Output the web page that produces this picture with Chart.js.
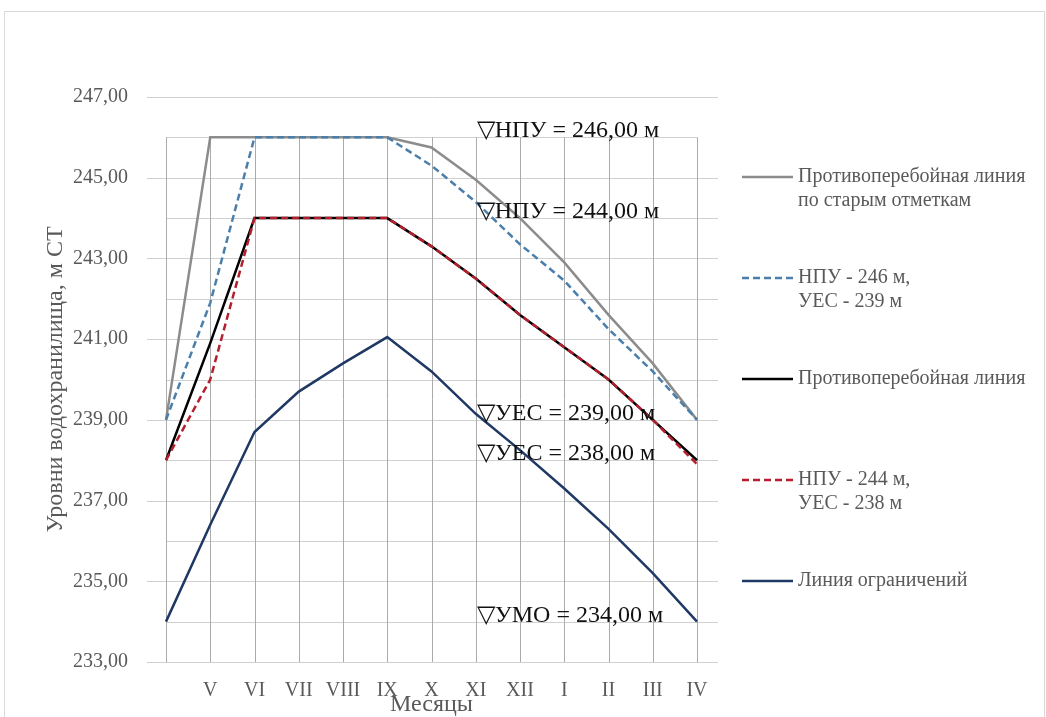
<!DOCTYPE html>
<html lang="ru">
<head>
<meta charset="utf-8">
<title>Уровни водохранилища</title>
<script src="https://cdn.jsdelivr.net/npm/chart.js@4.4.0/dist/chart.umd.min.js"></script>
<style>
  html, body { margin: 0; padding: 0; background: #fff; }
  #wrap { width: 1046px; height: 717px; position: relative; }
</style>
</head>
<body>
<div id="wrap"><canvas id="grafico" width="1046" height="717"></canvas></div>
<script>
// dados
const meses = ['', 'V', 'VI', 'VII', 'VIII', 'IX', 'X', 'XI', 'XII', 'I', 'II', 'III', 'IV'];
const linhaAntiga = [239, 246, 246, 246, 246, 246, 245.75, 244.95, 244.0, 242.9, 241.6, 240.4, 239.0];
const npu246 = [239, 241.9, 246, 246, 246, 246, 245.3, 244.4, 243.35, 242.45, 241.25, 240.2, 239.0];
const linhaNova = [238, 240.9, 244, 244, 244, 244, 243.3, 242.5, 241.6, 240.8, 240.0, 239.0, 238.0];
const npu244 = [238, 240.0, 244, 244, 244, 244, 243.3, 242.5, 241.6, 240.8, 240.0, 239.0, 237.9];
const linhaRestricoes = [234, 236.4, 238.7, 239.7, 240.4, 241.05, 240.2, 239.15, 238.25, 237.3, 236.3, 235.2, 234.0];

const niveisGrade = [233, 234, 235, 236, 237, 238, 239, 240, 241, 242, 243, 244, 245, 246, 247];

const marcasTexto = ['▽НПУ = 246,00 м', '▽НПУ = 244,00 м', '▽УЕС = 239,00 м', '▽УЕС = 238,00 м', '▽УМО = 234,00 м'];
const marcasNivel = [246, 244, 239, 238, 234];

const legendaTexto = [
  ['Противоперебойная линия', 'по старым отметкам'],
  ['НПУ - 246 м,', 'УЕС - 239 м'],
  ['Противоперебойная линия'],
  ['НПУ - 244 м,', 'УЕС - 238 м'],
  ['Линия ограничений']
];

const FONTE = '"Liberation Serif", "Times New Roman", serif';
const CINZA_TEXTO = '#595959';

Chart.defaults.font.family = FONTE;
Chart.defaults.color = CINZA_TEXTO;

const moldura = {
  id: 'moldura',
  beforeDraw(chart) {
    const ctx = chart.ctx;
    ctx.save();
    ctx.fillStyle = '#fff';
    ctx.fillRect(0, 0, chart.width, chart.height);
    ctx.strokeStyle = '#d9d9d9';
    ctx.lineWidth = 1;
    ctx.strokeRect(4.5, 11.5, 1040, 720);
    ctx.restore();
  }
};

const grade = {
  id: 'grade',
  beforeDatasetsDraw(chart) {
    const { ctx, chartArea, scales: { x, y } } = chart;
    ctx.save();
    ctx.lineWidth = 1;
    ctx.strokeStyle = '#d0d0d0';
    niveisGrade.forEach(v => {
      const py = Math.round(y.getPixelForValue(v)) + 0.5;
      const x0 = v % 2 === 1 ? chartArea.left - 19 : chartArea.left;
      const x1 = v === 246 ? chartArea.right : chartArea.right + 21;
      ctx.beginPath();
      ctx.moveTo(x0, py);
      ctx.lineTo(x1, py);
      ctx.stroke();
    });
    // linhas verticais só de 246 até 233
    const topo = y.getPixelForValue(246);
    ctx.strokeStyle = '#ababab';
    meses.forEach((m, i) => {
      const px = Math.round(x.getPixelForValue(i)) + 0.5;
      ctx.beginPath();
      ctx.moveTo(px, topo);
      ctx.lineTo(px, chartArea.bottom);
      ctx.stroke();
    });
    ctx.restore();
  }
};

const marcas = {
  id: 'marcas',
  afterDatasetsDraw(chart) {
    const { ctx, scales: { x, y } } = chart;
    ctx.save();
    ctx.font = '24px ' + FONTE;
    ctx.fillStyle = '#111';
    ctx.textAlign = 'left';
    ctx.textBaseline = 'alphabetic';
    const px = x.getPixelForValue(7) + 1;
    marcasTexto.forEach((t, i) => {
      ctx.fillText(t, px, y.getPixelForValue(marcasNivel[i]));
    });
    ctx.restore();
  }
};

const legenda = {
  id: 'legenda',
  afterDraw(chart) {
    const ctx = chart.ctx;
    ctx.save();
    ctx.font = '20px ' + FONTE;
    ctx.textBaseline = 'middle';
    ctx.textAlign = 'left';
    chart.data.datasets.forEach((ds, i) => {
      const yy = 177 + i * 101;
      ctx.strokeStyle = ds.borderColor;
      ctx.lineWidth = ds.borderWidth;
      ctx.setLineDash(ds.borderDash || []);
      ctx.beginPath();
      ctx.moveTo(742, yy);
      ctx.lineTo(793, yy);
      ctx.stroke();
      ctx.setLineDash([]);
      ctx.fillStyle = CINZA_TEXTO;
      legendaTexto[i].forEach((linha, j) => {
        ctx.fillText(linha, 798, yy + j * 24);
      });
    });
    ctx.restore();
  }
};

function serie(rotulo, dados, cor, tracejado, ordem) {
  return {
    label: rotulo,
    data: dados,
    borderColor: cor,
    backgroundColor: cor,
    borderWidth: 2.5,
    borderDash: tracejado,
    pointRadius: 0,
    tension: 0,
    fill: false,
    order: ordem
  };
}

new Chart(document.getElementById('grafico'), {
  type: 'line',
  data: {
    labels: meses,
    datasets: [
      serie('Противоперебойная линия по старым отметкам', linhaAntiga, '#8c8c8c', [], 5),
      serie('НПУ - 246 м, УЕС - 239 м', npu246, '#4a7eab', [7, 4], 4),
      serie('Противоперебойная линия', linhaNova, '#000000', [], 3),
      serie('НПУ - 244 м, УЕС - 238 м', npu244, '#b41f2e', [7, 4], 2),
      serie('Линия ограничений', linhaRestricoes, '#1f3864', [], 1)
    ]
  },
  options: {
    responsive: false,
    animation: false,
    layout: { padding: { top: 97, right: 349, left: 0, bottom: 0 } },
    plugins: {
      legend: { display: false },
      tooltip: { enabled: false }
    },
    scales: {
      x: {
        type: 'category',
        offset: false,
        grid: { display: false, drawTicks: false },
        border: { display: false },
        ticks: { padding: 17, autoSkip: false, maxRotation: 0, color: CINZA_TEXTO, font: { size: 20 } },
        title: { display: true, text: 'Месяцы', color: CINZA_TEXTO, font: { size: 24, lineHeight: 1 }, padding: { top: 0, bottom: 0 } },
        afterFit(s) { s.height = 55; }
      },
      y: {
        min: 233,
        max: 247,
        grid: { display: false, drawTicks: false },
        border: { display: false },
        ticks: {
          stepSize: 2,
          padding: 38,
          color: CINZA_TEXTO,
          font: { size: 20 },
          callback: v => v.toFixed(2).replace('.', ',')
        },
        title: { display: true, text: 'Уровни водохранилища, м СТ', color: CINZA_TEXTO, font: { size: 24 }, padding: { top: 41, bottom: 0 } },
        afterFit(s) { s.width = 166; }
      }
    }
  },
  plugins: [moldura, grade, marcas, legenda]
});
</script>
</body>
</html>
